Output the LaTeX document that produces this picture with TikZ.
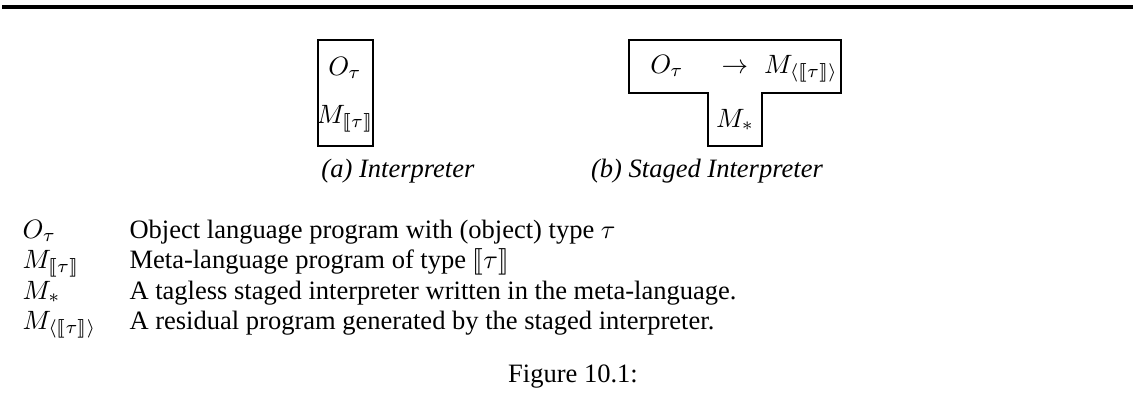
\documentclass[tikz,border=0pt]{standalone}
\usepackage{amsmath,amssymb}
\usepackage{stmaryrd}
\usepackage{fontspec}
\setmainfont{Liberation Serif}
\usepackage{tikz}
\usetikzlibrary{positioning}

\tikzset{
  boxline/.style={line width=0.8pt},
  lbl/.style={anchor=base,inner sep=0pt},
  sym/.style={anchor=base west,inner sep=0pt},
}

\begin{document}
\begin{tikzpicture}[x=0.377pt,y=-0.377pt]
  \useasboundingbox (0,0) rectangle (1135,400);
  % Top rule
  \draw[line width=1.4pt] (2,7) -- (1133,7);
  % (a) Interpreter box
  \draw[boxline] (318,40) rectangle (373,146);
  \node[lbl] (oa) at (345,75) {$O_\tau$};
  \node[lbl] (ma) at (345,123) {$M_{\llbracket\tau\rrbracket}$};
  \node[lbl] (capa) at (398,177) {\textit{(a) Interpreter}};
  % (b) Staged interpreter T-shape
  \draw[boxline] (629,40) -- (841,40) -- (841,93) -- (762,93) -- (762,146)
    -- (708,146) -- (708,93) -- (629,93) -- cycle;
  \node[lbl] (ob) at (667,73) {$O_\tau$};
  \node[lbl] (to) at (735,73) {$\rightarrow$};
  \node[lbl] (mr) at (801,73) {$M_{\langle\llbracket\tau\rrbracket\rangle}$};
  \node[lbl] (ms) at (735,127) {$M_{*}$};
  \node[lbl] (capb) at (707,177) {\textit{(b) Staged Interpreter}};
  % Legend
  \node[sym] (k1) at (22,238) {$O_\tau$};
  \node[sym] (k2) at (22,268) {$M_{\llbracket\tau\rrbracket}$};
  \node[sym] (k3) at (22,299) {$M_{*}$};
  \node[sym] (k4) at (22,329) {$M_{\langle\llbracket\tau\rrbracket\rangle}$};
  \node[sym] (d1) at (129,238) {Object language program with (object) type $\tau$};
  \node[sym] (d2) at (129,268) {Meta-language program of type $\llbracket\tau\rrbracket$};
  \node[sym] (d3) at (129,299) {A tagless staged interpreter written in the meta-language.};
  \node[sym] (d4) at (129,329) {A residual program generated by the staged interpreter.};
  % Caption
  \node[lbl] (fig) at (573,382) {Figure 10.1:};
\end{tikzpicture}
\end{document}
